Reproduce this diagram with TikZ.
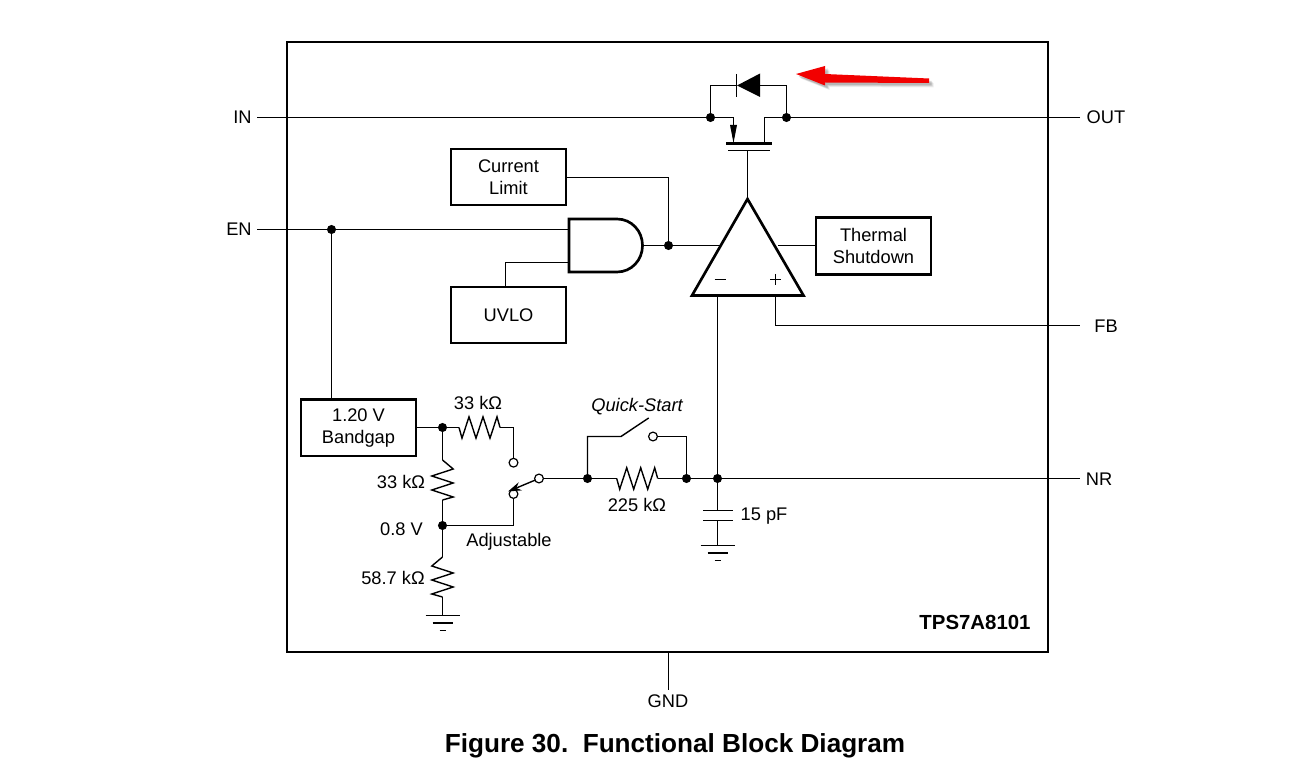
\documentclass[tikz,border=0pt]{standalone}
\usepackage{fontspec}
\setmainfont{Liberation Sans}
\usetikzlibrary{arrows.meta}
\tikzset{
  wire/.style={draw=black,line width=1.05pt},
  heavy/.style={draw=black,line width=2pt,line join=miter},
  blockbox/.style={heavy,anchor=north west,inner sep=0pt,outer sep=0pt,align=center,font=\fontsize{13.7}{16.5}\selectfont},
  dot/.style={circle,fill=black,inner sep=0pt,outer sep=0pt,minimum size=6.8pt},
  openpin/.style={circle,draw=black,fill=white,line width=.9pt,inner sep=0pt,outer sep=0pt,minimum size=6.6pt},
  lbl/.style={inner sep=0pt,font=\fontsize{13.7}{16}\selectfont,text=black},
  resh/.pic={\draw[wire,line join=miter] (0,0)--(3,10.7)--(10,-10.7)--(17,10.7)--(24,-10.7)--(31,10.7)--(38,-10.7)--(41,0);},
  resv/.pic={\draw[wire,line join=miter] (0,0)--(10.7,9)--(-10.7,16)--(10.7,23)--(-10.7,30)--(10.7,37)--(0,40);},
  gndbars/.pic={
    \draw[wire] (-17,0)--(17,0);
    \draw[wire] (-10,7.5)--(10,7.5);
    \draw[wire] (-3,15)--(3,15);}
}
\begin{document}
\begin{tikzpicture}[x=.75pt,y=-.75pt]
\useasboundingbox (0,0) rectangle (1296,780);

% package outline and part number
\node[heavy,anchor=north west,minimum width=761*.75pt,minimum height=610*.75pt,inner sep=0pt,outer sep=0pt] (chip) at (287,42) {};
\node[inner sep=0pt,font=\fontsize{15.3}{18}\selectfont\bfseries] (part) at (975,622.5) {TPS7A8101};

% pin labels
\node[lbl] (in) at (242.5,117.5) {IN};
\node[lbl] (out) at (1106,117.5) {OUT};
\node[lbl] (en) at (239,229.5) {EN};
\node[lbl] (fb) at (1106,326) {FB};
\node[lbl] (nr) at (1099,479) {NR};
\node[lbl] (gnd) at (668,701) {GND};

% junctions
\coordinate (inL) at (257,117.5);
\coordinate (outR) at (1080,117.5);
\node[dot] (s) at (710.5,117.5) {};
\node[dot] (d) at (786.5,117.5) {};
\node[dot] (enj) at (331.5,229.5) {};
\coordinate (enL) at (257,229.5);

% pass transistor and body diode
\coordinate (dl) at (710.5,85.5);
\coordinate (dr) at (786.5,85.5);
\draw[wire] (s) -- (dl) -- (737,85.5);
\draw[wire] (760,85.5) -- (dr) -- (d);
\fill[black] (737,85.5) -- (760,73.5) -- (760,97) -- cycle;
\draw[wire] (736.5,74) -- (736.5,97);
\draw[wire] (inL) -- (s) -- (733.5,117.5) -- (733.5,126);
\fill[black] (730,125) -- (737,125) -- (733.5,143) -- cycle;
\draw[wire] (outR) -- (d) -- (764.5,117.5) -- (764.5,143);
\draw[black,line width=2.2pt] (726,143.5) -- (772,143.5);
\coordinate (gatebar) at (747.5,150.5);
\draw[black,line width=1.2pt] (728,150.5) -- (770,150.5);

% error amplifier
\coordinate (apex) at (747.5,199);
\coordinate (bl) at (692,295.5);
\coordinate (br) at (803.5,295.5);
\draw[heavy] (apex) -- (br) -- (bl) -- cycle;
\draw[wire] (gatebar) -- (apex);
\draw[wire] (714.5,279.5) -- (725.5,279.5);
\draw[wire] (770,279.5) -- (781,279.5) (775.5,274) -- (775.5,285);

% control blocks
\node[blockbox,minimum width=115*.75pt,minimum height=56*.75pt] (cl) at (451,149) {Current\\Limit};
\node[blockbox,minimum width=115*.75pt,minimum height=56*.75pt] (uvlo) at (451,287) {UVLO};
\node[blockbox,minimum width=115*.75pt,minimum height=57*.75pt] (ts) at (816,217.5) {Thermal\\Shutdown};
\node[blockbox,minimum width=115*.75pt,minimum height=56.5*.75pt] (bg) at (301,399.5) {1.20 V\\Bandgap};

% enable gate
\draw[heavy] (569,219) -- (617,219) .. controls (631.5,219) and (642.5,231) .. (642.5,245.5) .. controls (642.5,260) and (631.5,272) .. (617,272) -- (569,272) -- cycle;
\coordinate (gatein1) at (569,229.5);
\coordinate (gatein2) at (569,262.5);
\coordinate (gateout) at (643,245.5);
\node[dot] (ctl) at (668.5,245.5) {};
\coordinate (ampin) at (720,245.5);
\coordinate (tsin) at (778,245.5);
\draw[wire] (enL) -- (enj) -- (gatein1);
\draw[wire] (enj) -- (bg.north -| enj);
\draw[wire] (505.5,287) -- (505.5,262.5) -- (gatein2);
\draw[wire] (cl.east |- 0,177.5) -- (668.5,177.5) -- (ctl);
\draw[wire] (gateout) -- (ctl) -- (ampin);
\draw[wire] (tsin) -- (ts.west |- tsin);

% feedback and noise-reduction nets
\coordinate (fbR) at (1080,325.5);
\coordinate (plus) at (775.5,296);
\draw[wire] (plus) -- (775.5,325.5) -- (fbR);
\node[dot] (nrj) at (717.5,478.5) {};
\coordinate (minus) at (717.5,296);
\coordinate (nrR) at (1080,478.5);
\draw[wire] (minus) -- (nrj) -- (nrR);

% divider string
\node[dot] (top) at (442.5,427.5) {};
\node[dot] (mid) at (442.5,525.5) {};
\draw[wire] (bg.east |- top) -- (top) -- (459,427.5);
\path (459,427.5) pic {resh};
\node[openpin] (pa) at (513.5,462.7) {};
\node[openpin] (pb) at (513.5,494) {};
\node[openpin] (pc) at (539,478.5) {};
\draw[wire] (500,427.5) -- (513.5,427.5) -- (pa);
\draw[wire] (pb) -- (513.5,525.5) -- (mid);
\draw[wire] (top) -- (442.5,460);
\path (442.5,460) pic {resv};
\draw[wire] (442.5,500) -- (mid) -- (442.5,557);
\path (442.5,557) pic[xscale=-1] {resv};
\coordinate (g1) at (442.5,615.5);
\draw[wire] (442.5,597) -- (g1);
\path (g1) pic {gndbars};

% selector wiper
\draw[wire,-{Stealth[length=10pt,width=6.5pt]}] (pc) -- (508,491.5);

% quick-start network
\node[dot] (qa) at (587.5,478.5) {};
\node[dot] (qb) at (686.5,478.5) {};
\node[openpin] (qc) at (653,436.5) {};
\draw[wire] (pc) -- (qa) -- (616.7,478.5);
\path (616.7,478.5) pic {resh};
\draw[wire] (657.7,478.5) -- (qb) -- (nrj);
\draw[wire] (qa) -- (587.5,436.5) -- (621,436.5) -- (648.7,418);
\draw[wire] (qc) -- (686.5,436.5) -- (qb);

% noise-reduction capacitor
\coordinate (capt) at (717.5,510.5);
\coordinate (capb) at (717.5,520.5);
\coordinate (g2) at (717.5,545.5);
\draw[wire] (nrj) -- (capt);
\draw[wire] (703,510.5) -- (732.5,510.5);
\draw[wire] (703,520.5) -- (732.5,520.5);
\draw[wire] (capb) -- (g2);
\path (g2) pic {gndbars};

% ground pin
\coordinate (gndt) at (668.5,652);
\coordinate (gndb) at (668.5,690);
\draw[wire] (gndt) -- (gndb);

% component values
\node[lbl] (v1) at (478,403) {33 kΩ};
\node[lbl] (v2) at (401,482) {33 kΩ};
\node[lbl] (v3) at (401.5,529) {0.8 V};
\node[lbl] (v4) at (393,578) {58.7 kΩ};
\node[lbl] (v5) at (637,504.5) {225 kΩ};
\node[lbl] (v6) at (764,516) {15 pF};
\node[lbl] (v7) at (509,542) {Adjustable};
\node[lbl,font=\fontsize{13.7}{16}\selectfont\itshape] (v8) at (637,407) {Quick-Start};

% caption
\node[inner sep=0pt,font=\fontsize{19.6}{22}\selectfont\bfseries] (cap) at (675,746) {Figure 30.\ \ Functional Block Diagram};

% red pointer with its soft shadow
\foreach \o/\a in {4.5/.07,3.5/.1,2.5/.14}
  \fill[black,opacity=\a] (796+\o,74+\o) -- (825+\o,66+\o) -- (825+\o,74+\o) -- (929+\o,78.5+\o) -- (929+\o,83+\o) -- (825+\o,82.5+\o) -- (825+\o,85.5+\o) -- cycle;
\fill[red!95!black] (796,74) -- (825,66) -- (825,74) -- (929,78.5) -- (929,83) -- (825,82.5) -- (825,85.5) -- cycle;
\end{tikzpicture}
\end{document}
